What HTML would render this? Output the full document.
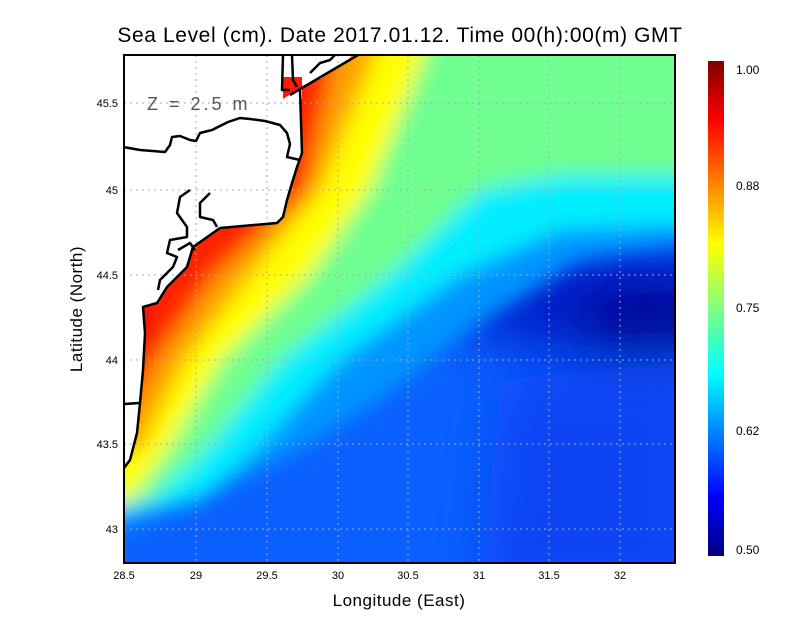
<!DOCTYPE html>
<html><head><meta charset="utf-8"><style>
body{margin:0;background:#fff;}
svg text{font-family:"Liberation Sans",sans-serif;}
</style></head><body>
<svg width="800" height="618" viewBox="0 0 800 618" xmlns="http://www.w3.org/2000/svg">
<defs>
<clipPath id="pc"><rect x="124" y="55" width="551" height="508"/></clipPath>
<filter id="bl" x="-50%" y="-50%" width="200%" height="200%"><feGaussianBlur stdDeviation="10"/></filter>
<filter id="bl2" x="-50%" y="-50%" width="200%" height="200%"><feGaussianBlur stdDeviation="25"/></filter>
<linearGradient id="cb" x1="0" y1="0" x2="0" y2="1">
<stop offset="0" stop-color="#800000"/><stop offset="0.12" stop-color="#ff0000"/>
<stop offset="0.37" stop-color="#ffff00"/><stop offset="0.63" stop-color="#00ffff"/>
<stop offset="0.88" stop-color="#0000ff"/><stop offset="1" stop-color="#00007f"/>
</linearGradient>
</defs>
<text x="400" y="42" font-size="21" text-anchor="middle" letter-spacing="0.6">Sea Level (cm). Date 2017.01.12. Time 00(h):00(m) GMT</text>
<g clip-path="url(#pc)">
<rect x="100" y="40" width="600" height="540" fill="#0a60ff"/>
<g filter="url(#bl2)">
<polygon points="500,380 700,360 700,600 480,600" fill="#0845f5"/>
<ellipse cx="610" cy="300" rx="160" ry="55" fill="#0020d0"/>
<ellipse cx="650" cy="320" rx="80" ry="35" fill="#000090"/>
</g>
<g filter="url(#bl)">
<polygon points="60,0 760,0 760,245 675,245 580,260 470,330 380,400 300,450 200,500 124,530 60,560" fill="#0094ff"/>
<polygon points="60,0 760,0 760,225 675,225 560,230 460,275 340,360 255,450 200,500 124,510 60,520" fill="#00eeff"/>
<polygon points="60,0 760,0 760,175 675,175 560,175 480,190 390,275 280,360 205,450 150,500 60,520" fill="#70ff90"/>
<polygon points="60,0 440,0 425,55 370,190 310,275 222,360 168,450 130,500 60,510" fill="#ffff00"/>
<polygon points="60,0 385,0 375,55 320,190 250,275 185,360 140,450 60,470" fill="#ffa000"/>
<polygon points="60,0 340,0 335,55 305,190 215,275 155,360 124,420 60,430" fill="#ff2000"/>
<ellipse cx="135" cy="320" rx="8" ry="18" fill="#b00000"/>
</g>
<polygon points="110,40 355,40 350,58 340,66 322,78 302,86 300,107 302,153 297,167 292,183 287,200 283,217 277,223 220,228 193,247 187,267 167,287 157,303 143,307 145,333 143,370 140,403 137,433 130,460 110,470" fill="#fff"/>
<rect x="283" y="77" width="19" height="22" fill="#ff1a00"/>
<polygon points="283,99 302,87 302,99" fill="#fff"/>
</g>
<g stroke="#aaa" stroke-dasharray="2,4" stroke-width="1">
<line x1="196" y1="55" x2="196" y2="563"/><line x1="267" y1="55" x2="267" y2="563"/>
<line x1="338" y1="55" x2="338" y2="563"/><line x1="408" y1="55" x2="408" y2="563"/>
<line x1="479" y1="55" x2="479" y2="563"/><line x1="549" y1="55" x2="549" y2="563"/>
<line x1="620" y1="55" x2="620" y2="563"/>
<line x1="124" y1="103" x2="675" y2="103"/><line x1="124" y1="190" x2="675" y2="190"/>
<line x1="124" y1="275" x2="675" y2="275"/><line x1="124" y1="360" x2="675" y2="360"/>
<line x1="124" y1="444" x2="675" y2="444"/><line x1="124" y1="529" x2="675" y2="529"/>
</g>
<g fill="none" stroke="#000" stroke-width="2.5" stroke-linejoin="round" clip-path="url(#pc)">
<polyline points="358,55 290,95"/>
<polyline points="300,90 302,153 297,167 292,183 287,200 283,217 277,223 220,228 193,247 187,267 167,287 157,303 143,307 145,333 143,370 140,403 137,433 130,460 124,468"/>
<polyline points="124,404 140,403"/>
<polyline points="123,147 140,150 165,152 170,145 172,137 180,136 190,140 196,141 200,133 212,130 228,122 240,118 250,119 265,121 280,125 287,133 290,144 287,157 300,160"/>
<polyline points="283,55 282,90 290,90"/>
<polyline points="292,55 293,80 297,87"/>
<polyline points="310,73 320,63 330,60 335,55"/>
<polyline points="190,190 180,197 177,213 187,227 187,237 170,240 167,253 177,257 173,267 160,280 158,290"/>
<polyline points="210,193 200,203 200,217 213,220 217,227"/>
<polyline points="178,250 190,243 195,250"/>
</g>
<rect x="124" y="55" width="551" height="508" fill="none" stroke="#000" stroke-width="2"/>
<text x="147" y="110" font-size="18" fill="#555" letter-spacing="3">Z = 2.5 m</text>
<g font-size="11" text-anchor="end">
<text x="118" y="107">45.5</text><text x="118" y="194">45</text><text x="118" y="279">44.5</text>
<text x="118" y="364">44</text><text x="118" y="448">43.5</text><text x="118" y="533">43</text>
</g>
<g font-size="11" text-anchor="middle">
<text x="124" y="579">28.5</text><text x="196" y="579">29</text><text x="267" y="579">29.5</text>
<text x="338" y="579">30</text><text x="408" y="579">30.5</text><text x="479" y="579">31</text>
<text x="549" y="579">31.5</text><text x="620" y="579">32</text>
</g>
<text x="399" y="606" font-size="17" text-anchor="middle" letter-spacing="0.5">Longitude (East)</text>
<text x="82" y="309" font-size="17" text-anchor="middle" letter-spacing="0.5" transform="rotate(-90 82 309)">Latitude (North)</text>
<rect x="708" y="61" width="16" height="495" fill="url(#cb)"/>
<g font-size="12">
<text x="736" y="74">1.00</text><text x="736" y="190">0.88</text><text x="736" y="312">0.75</text>
<text x="736" y="435">0.62</text><text x="736" y="554">0.50</text>
</g>
</svg>
</body></html>
